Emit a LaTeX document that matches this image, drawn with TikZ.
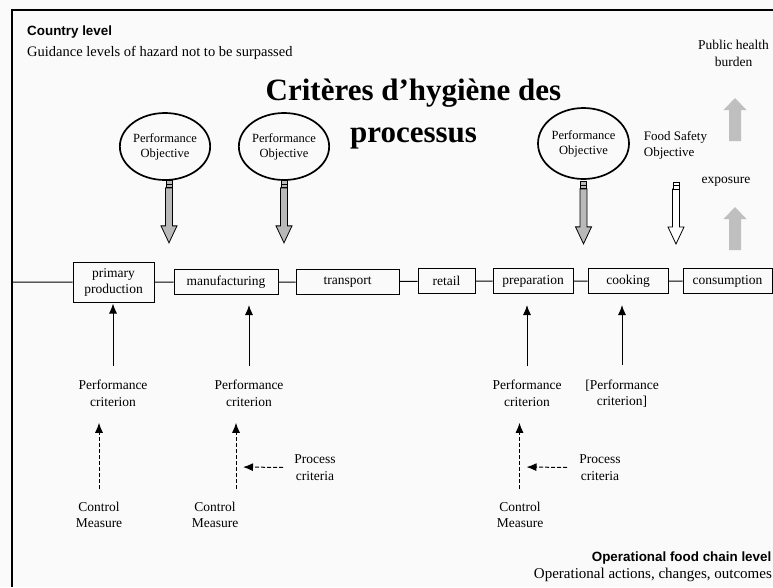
\documentclass[tikz,border=0pt]{standalone}
\usepackage{fontspec}
\setmainfont{Liberation Serif}
\setsansfont{Liberation Sans}
\usetikzlibrary{arrows.meta,shapes.geometric}

\tikzset{
  stage/.style = {draw, line width=1pt, minimum height=25pt, inner sep=0pt, font=\fontsize{13.5}{15}\selectfont},
  objective/.style = {ellipse, draw, line width=1.7pt, inner sep=0pt, align=center, font=\fontsize{12.5}{15}\selectfont},
  txt/.style = {align=center, inner sep=1pt, font=\fontsize{13.5}{16.5}\selectfont},
  solidarrow/.style = {line width=1pt, -{Latex[length=10pt,width=8pt]}},
  dasharrow/.style = {line width=1pt, dash pattern=on 4pt off 2pt, -{Latex[length=10pt,width=8pt]}},
  pics/bigdown/.style = {code={
    \draw[line width=0.8pt, fill=#1] (-3.5,7) -- (-3.5,45) -- (-8,45) -- (0,62) -- (8,45) -- (3.5,45) -- (3.5,7) -- cycle;
    \draw[line width=0.8pt, fill=#1] (-3,0) rectangle (3,7);
    \draw[line width=0.6pt] (-3,3.5) -- (3,3.5);
  }},
  pics/bigup/.style = {code={
    \fill[gray!50] (-6,0) -- (-6,-31) -- (-11.5,-31) -- (0,-43) -- (11.5,-31) -- (6,-31) -- (6,0) -- cycle;
  }}
}

\begin{document}
\begin{tikzpicture}[x=1pt, y=-1pt]
\useasboundingbox (0,0) rectangle (773,587);
\fill[gray!4] (0,0) rectangle (773,587);
\draw[line width=1.3pt] (773,10) -- (12,10) -- (12,587);

\node[anchor=west, inner sep=0pt, font=\sffamily\bfseries\fontsize{13.4}{15}\selectfont] (country) at (27,32) {Country level};
\node[anchor=west, inner sep=0pt, font=\fontsize{14.5}{16}\selectfont] (guidance) at (27,53) {Guidance levels of hazard not to be surpassed};
\node[align=center, inner sep=0pt, font=\bfseries\fontsize{31}{42}\selectfont] (title) at (413.5,114) {Critères d’hygiène des\\processus};

\node[objective, minimum width=82pt, minimum height=67pt] (po1) at (165,146.5) {Performance\\Objective};
\node[objective, minimum width=84pt, minimum height=67pt] (po2) at (284,146.5) {Performance\\Objective};
\node[objective, minimum width=91pt, minimum height=71pt] (po3) at (583.5,143.5) {Performance\\Objective};
\node[txt, align=left, font=\fontsize{13}{15.5}\selectfont] (fso) at (675.5,145.5) {Food Safety\\Objective};
\node[txt] (burden) at (733.5,53.5) {Public health\\burden};
\node[txt] (exposure) at (726,182) {exposure};

\pic at ([xshift=4pt]po1.south) {bigdown=gray!55};
\pic at (po2.south) {bigdown=gray!55};
\pic at ([yshift=-2pt]po3.south) {bigdown=gray!55};
\pic at (676,182) {bigdown=white};
\pic at (735,141) {bigup};
\pic at (735,250) {bigup};

\coordinate (chainstart) at (12,282);
\node[stage, minimum width=81pt, minimum height=40pt, align=center, font=\fontsize{13.5}{16}\selectfont] (prim) at (113.5,282) {primary\\production};
\node[stage, minimum width=104pt] (manu) at (226,282) {manufacturing};
\node[stage, minimum width=103pt] (trans) at (347.5,282) {transport};
\node[stage, minimum width=57pt] (retail) at (446.5,281) {retail};
\node[stage, minimum width=80pt] (prep) at (533,281) {preparation};
\node[stage, minimum width=80pt] (cook) at (628,281) {cooking};
\node[stage, minimum width=89pt] (cons) at (727.5,281) {consumption};
\draw[line width=1pt] (chainstart) -- (prim) -- (manu) -- (trans) -- (retail) -- (prep) -- (cook) -- (cons);

\node[txt] (crit1) at (113,393.5) {Performance\\criterion};
\node[txt] (crit2) at (249,393.5) {Performance\\criterion};
\node[txt] (crit3) at (527,393.5) {Performance\\criterion};
\node[txt] (crit4) at (622,393.5) {[Performance\\criterion]};
\draw[solidarrow, shorten <=13pt, shorten >=1pt] (crit1.north) -- (crit1.north |- prim.south);
\draw[solidarrow, shorten <=13pt, shorten >=10pt] (crit2.north) -- (crit2.north |- manu.south);
\draw[solidarrow, shorten <=13pt, shorten >=11pt] (crit3.north) -- (crit3.north |- prep.south);
\draw[solidarrow, shorten <=13pt, shorten >=11pt] (crit4.north) -- (crit4.north |- cook.south);

\node[txt] (ctrl1) at (99,515) {Control\\Measure};
\node[txt] (ctrl2) at (215,515) {Control\\Measure};
\node[txt] (ctrl3) at (520,515) {Control\\Measure};
\node[txt] (proc2) at (315,467.5) {Process\\criteria};
\node[txt] (proc3) at (600,467.5) {Process\\criteria};
\coordinate (dash1) at (99,467);
\coordinate (dash2) at (236,467);
\coordinate (dash3) at (519.5,467);
\draw[dasharrow, shorten <=12pt, shorten >=15pt] (ctrl1.north -| dash1) -- (crit1.south -| dash1);
\draw[dasharrow, shorten <=12pt, shorten >=15pt] (ctrl2.north -| dash2) -- (crit2.south -| dash2);
\draw[dasharrow, shorten <=12pt, shorten >=15pt] (ctrl3.north -| dash3) -- (crit3.south -| dash3);
\draw[dasharrow, shorten <=10pt, shorten >=7pt] (proc2.west) -- (dash2);
\draw[dasharrow, shorten <=11pt, shorten >=7pt] (proc3.west) -- (dash3);

\node[anchor=east, inner sep=0pt, font=\sffamily\bfseries\fontsize{13.4}{15}\selectfont] (oplevel) at (771.5,558) {Operational food chain level};
\node[anchor=east, inner sep=0pt, font=\fontsize{15}{17}\selectfont] (opactions) at (772,575) {Operational actions, changes, outcomes};
\end{tikzpicture}
\end{document}
